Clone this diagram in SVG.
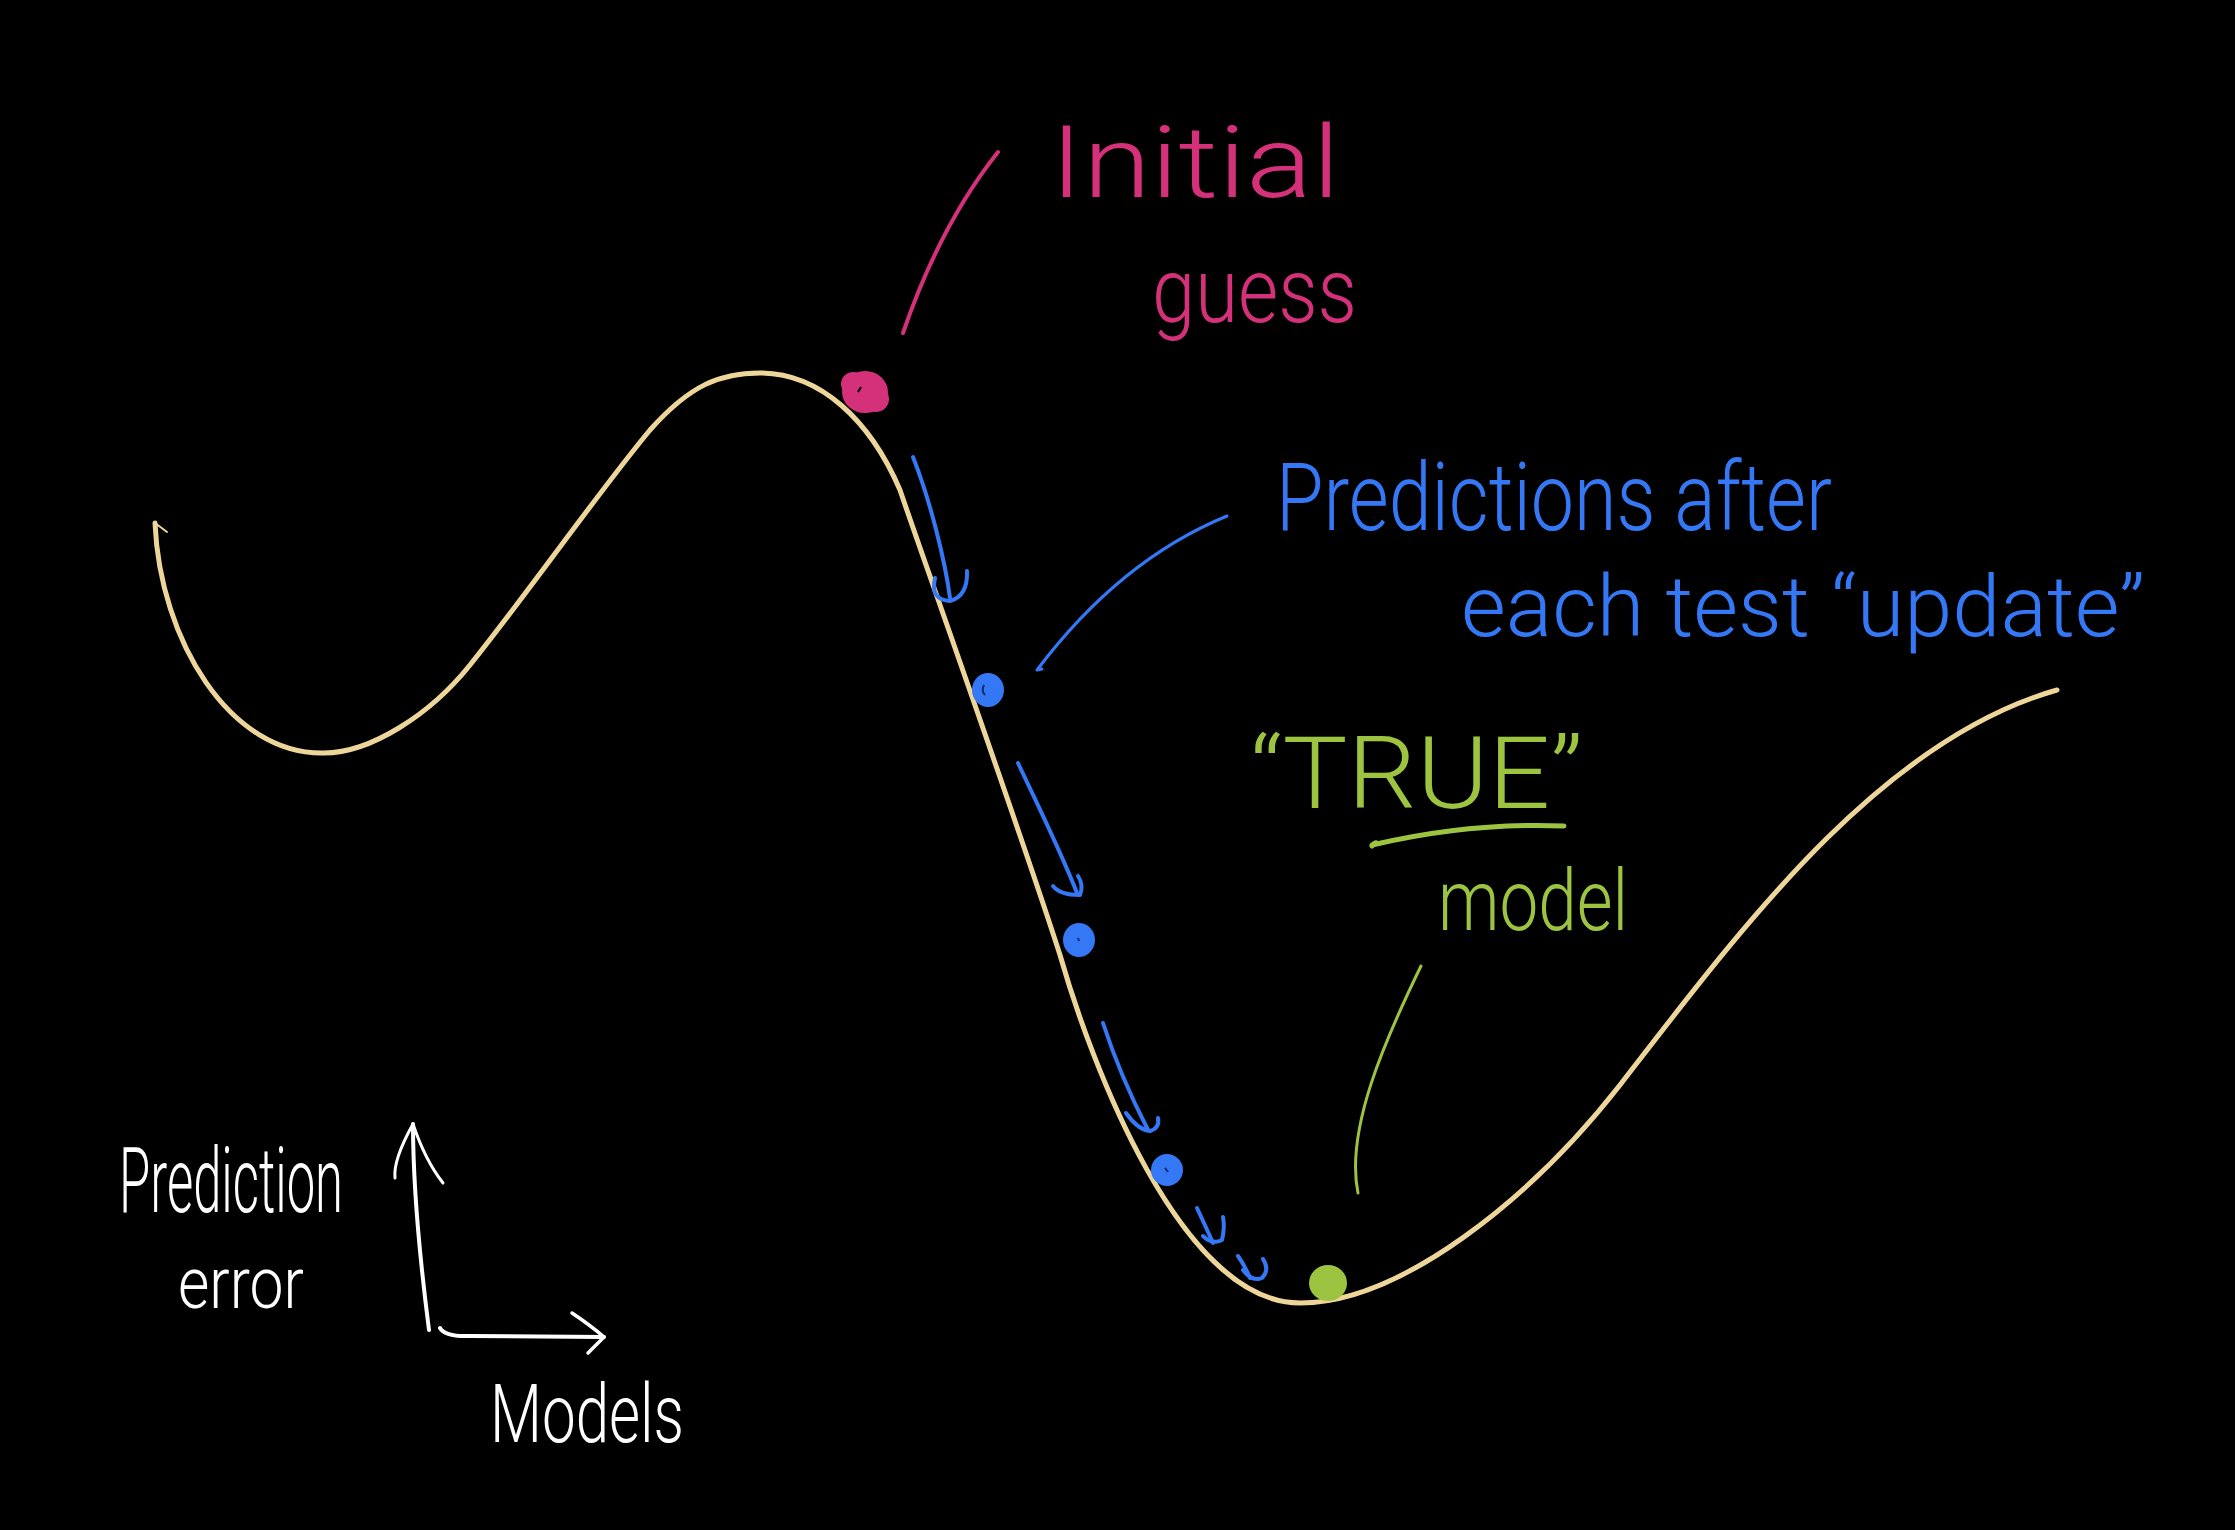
<svg xmlns="http://www.w3.org/2000/svg" width="2235" height="1530" viewBox="0 0 2235 1530">
  <style>
    .hw { font-family: Roboto, Lato, "DejaVu Sans", sans-serif; font-weight: 300; }
    .pink { fill: #d4317a; }
    .blue { fill: #3478f6; }
    .green { fill: #9dc441; }
    .white { fill: #ffffff; }
    .stroke-pink { stroke: #d4317a; fill: none; stroke-linecap: round; stroke-linejoin: round; }
    .stroke-blue { stroke: #3478f6; fill: none; stroke-linecap: round; stroke-linejoin: round; }
    .stroke-green { stroke: #9dc441; fill: none; stroke-linecap: round; stroke-linejoin: round; }
    .stroke-white { stroke: #ffffff; fill: none; stroke-linecap: round; stroke-linejoin: round; }
    .curve { stroke: #eed59a; fill: none; stroke-width: 5; stroke-linecap: round; stroke-linejoin: round; }
  </style>
  <rect x="0" y="0" width="2235" height="1530" fill="#000000"/>

  <g id="error-curve">
    <path class="curve" d="M155,523 C160,640 230,755 324,753 C370,753 430,715 470,665 C530,590 600,490 650,430 C690,385 720,373 760,373 C820,373 870,420 900,490 C915,535 1020,830 1060,955 C1090,1060 1180,1303 1300,1303 C1400,1303 1530,1200 1620,1085 C1740,930 1880,740 2057,690"/>
    <path class="curve" style="stroke-width:2" d="M155,523 L167,532"/>
  </g>

  <g id="initial-guess-dot">
    <ellipse cx="865" cy="392" rx="23" ry="21" class="pink"/>
    <circle cx="853" cy="384" r="12" class="pink"/>
    <circle cx="876" cy="399" r="13" class="pink"/>
    <path d="M858,392 l3,-5" stroke="#000" stroke-width="2" fill="none"/>
  </g>

  <g id="initial-guess-label">
    <text class="hw pink" x="1050" y="197" font-size="100" textLength="290" lengthAdjust="spacingAndGlyphs">Initial</text>
    <text class="hw pink" x="1152" y="322" font-size="90" textLength="205" lengthAdjust="spacingAndGlyphs">guess</text>
  </g>

  <g id="prediction-dots">
    <ellipse cx="988" cy="690" rx="16" ry="17" class="blue"/>
    <ellipse cx="1079" cy="940" rx="16" ry="17" class="blue"/>
    <ellipse cx="1167" cy="1170" rx="16" ry="16" class="blue"/>
    <path d="M984,685 q-3,6 1,10 M1078,938 l1,3 M1165,1168 l3,4" stroke="#0a2a70" stroke-width="2" fill="none"/>
  </g>

  <g id="predictions-label">
    <text class="hw blue" x="1276" y="530" font-size="95" textLength="556" lengthAdjust="spacingAndGlyphs">Predictions after</text>
    <text class="hw blue" x="1461" y="636" font-size="85" textLength="684" lengthAdjust="spacingAndGlyphs">each test “update”</text>
  </g>

  <g id="true-model-dot">
    <ellipse cx="1328" cy="1283" rx="19" ry="18" class="green"/>
  </g>

  <g id="true-model-label">
    <text class="hw green" x="1250" y="808" font-size="100" textLength="333" lengthAdjust="spacingAndGlyphs">“TRUE”</text>
    <path class="stroke-green" stroke-width="5" d="M1372,846 Q1380,840 1372,845 Q1470,822 1564,826"/>
    <text class="hw green" x="1438" y="930" font-size="85" textLength="190" lengthAdjust="spacingAndGlyphs">model</text>
  </g>

  <g id="axes">
    <path class="stroke-white" stroke-width="4" d="M429,1330 C420,1260 413,1180 413,1124"/>
    <path class="stroke-white" stroke-width="3" d="M395,1178 Q393,1160 413,1124 Q425,1160 443,1183"/>
    <path class="stroke-white" stroke-width="4" d="M440,1328 Q445,1337 470,1336 L604,1337"/>
    <path class="stroke-white" stroke-width="3.5" d="M572,1313 Q590,1325 604,1337 Q596,1345 588,1353"/>
    <text class="hw white" x="119" y="1212" font-size="90" textLength="224" lengthAdjust="spacingAndGlyphs">Prediction</text>
    <text class="hw white" x="178" y="1308" font-size="72" textLength="126" lengthAdjust="spacingAndGlyphs">error</text>
    <text class="hw white" x="490" y="1442" font-size="82" textLength="194" lengthAdjust="spacingAndGlyphs">Models</text>
  </g>

  <g id="connectors">
    <path class="stroke-pink" stroke-width="4" d="M998,152 Q940,225 903,333"/>
    <path class="stroke-blue" stroke-width="3" d="M1227,516 Q1120,560 1037,670 l5,-1"/>
    <path class="stroke-green" stroke-width="3" d="M1421,966 C1385,1040 1345,1130 1358,1193"/>
    <path class="stroke-blue" stroke-width="4" d="M913,457 C930,500 945,560 950,598"/>
    <path class="stroke-blue" stroke-width="4" d="M935,578 Q930,600 950,601 Q968,596 967,571"/>
    <path class="stroke-blue" stroke-width="4" d="M1018,763 C1040,810 1060,850 1077,893"/>
    <path class="stroke-blue" stroke-width="4" d="M1053,886 Q1060,895 1080,895 Q1084,885 1078,876"/>
    <path class="stroke-blue" stroke-width="4" d="M1103,1023 C1115,1060 1130,1095 1148,1130"/>
    <path class="stroke-blue" stroke-width="4" d="M1126,1113 Q1138,1130 1150,1131 Q1160,1128 1158,1118"/>
    <path class="stroke-blue" stroke-width="4" d="M1197,1208 Q1205,1225 1213,1243"/>
    <path class="stroke-blue" stroke-width="4" d="M1203,1236 Q1212,1245 1222,1240 Q1225,1228 1223,1217"/>
    <path class="stroke-blue" stroke-width="4" d="M1238,1256 Q1245,1266 1250,1278"/>
    <path class="stroke-blue" stroke-width="4" d="M1243,1270 Q1252,1282 1262,1278 Q1270,1270 1263,1259"/>
  </g>
</svg>
